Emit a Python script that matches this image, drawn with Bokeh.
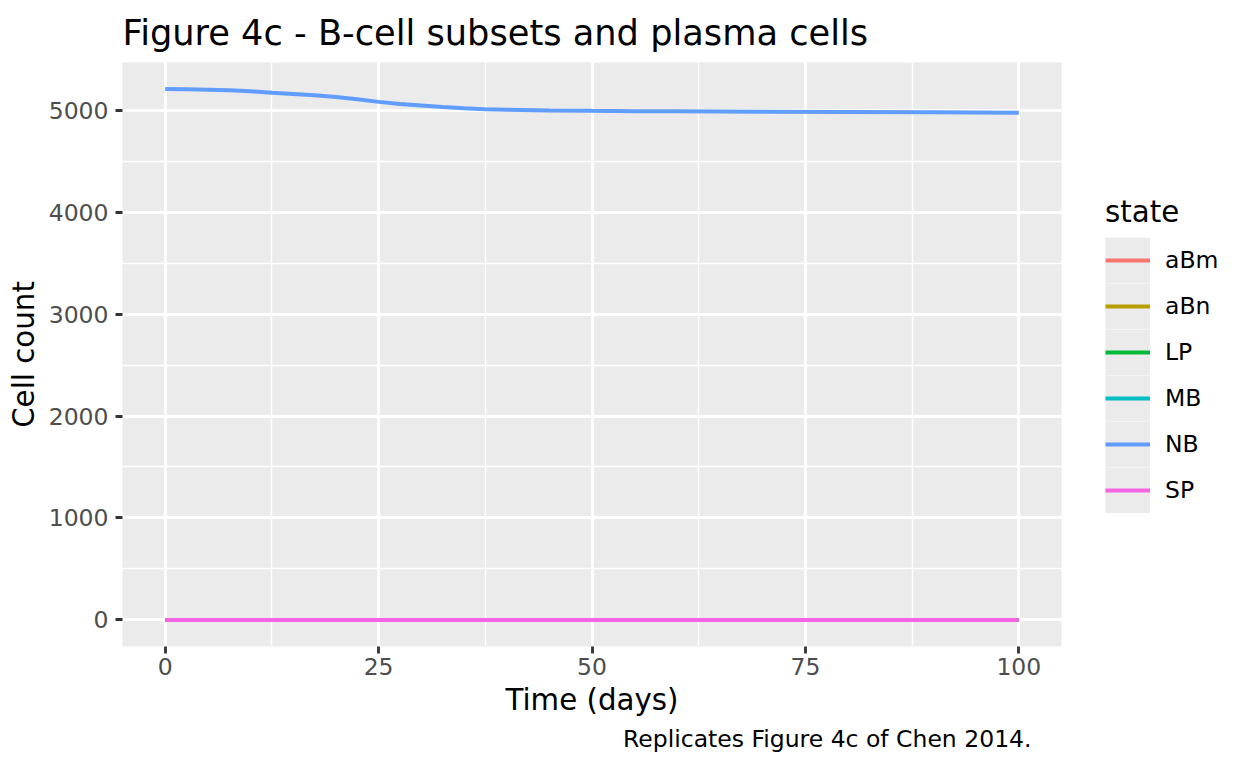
import numpy as np
from bokeh.plotting import figure
from bokeh.models import Range1d, FixedTicker, Legend, LegendItem, ColumnDataSource, Title
from bokeh.embed import file_html
from bokeh.resources import INLINE

# ---- data ----
time_days = [0, 2.5, 5, 7.5, 10, 12.5, 15, 17.5, 20, 22.5, 25, 27.5, 30, 32.5,
             35, 37.5, 40, 45, 50, 55, 60, 70, 80, 90, 100]
NB = [5205, 5204, 5200, 5193, 5183, 5170, 5158, 5145, 5128, 5105, 5080, 5060,
      5045, 5030, 5017, 5008, 5002, 4996, 4992, 4989, 4987, 4983, 4980, 4977, 4974]
aBm = [0, 0, 0, 0, 0, 0, 0, 0, 0, 0, 0, 0, 0, 0, 0, 0, 0, 0, 0, 0, 0, 0, 0, 0, 0]
aBn = [0, 0, 0, 0, 0, 0, 0, 0, 0, 0, 0, 0, 0, 0, 0, 0, 0, 0, 0, 0, 0, 0, 0, 0, 0]
LP = [0, 0, 0, 0, 0, 0, 0, 0, 0, 0, 0, 0, 0, 0, 0, 0, 0, 0, 0, 0, 0, 0, 0, 0, 0]
MB = [0, 0, 0, 0, 0, 0, 0, 0, 0, 0, 0, 0, 0, 0, 0, 0, 0, 0, 0, 0, 0, 0, 0, 0, 0]
SP = [0, 0, 0, 0, 0, 0, 0, 0, 0, 0, 0, 0, 0, 0, 0, 0, 0, 0, 0, 0, 0, 0, 0, 0, 0]

states = ["aBm", "aBn", "LP", "MB", "NB", "SP"]
series = [aBm, aBn, LP, MB, NB, SP]
colors = ["#F8766D", "#B79F00", "#00BA38", "#00BFC4", "#619CFF", "#F564E3"]

x_ticks = [0, 25, 50, 75, 100]
x_minor = [12.5, 37.5, 62.5, 87.5]
y_ticks = [0, 1000, 2000, 3000, 4000, 5000]
y_minor = [500, 1500, 2500, 3500, 4500]

FONT = "DejaVu Sans"

p = figure(width=1248, height=768, frame_width=939, frame_height=584,
           x_range=Range1d(-5, 105), y_range=Range1d(-260, 5466),
           output_backend="svg", toolbar_location=None,
           min_border_left=122, min_border_top=62, min_border_bottom=10,
           min_border_right=10,
           background_fill_color="#EBEBEB", border_fill_color="white",
           outline_line_color=None,
           title="Figure 4c - B-cell subsets and plasma cells")

p.title.text_font = FONT
p.title.text_font_size = "35.2px"
p.title.text_font_style = "normal"
p.title.text_color = "black"
p.title.align = "left"
p.title.standoff = 19

# axes
p.xaxis.ticker = FixedTicker(ticks=x_ticks, minor_ticks=x_minor)
p.yaxis.ticker = FixedTicker(ticks=y_ticks, minor_ticks=y_minor)
for ax in (p.xaxis, p.yaxis):
    ax.axis_line_color = None
    ax.major_tick_in = 0
    ax.major_tick_out = 7
    ax.major_tick_line_color = "#333333"
    ax.major_tick_line_width = 2.8
    ax.minor_tick_line_color = None
    ax.major_label_text_font = FONT
    ax.major_label_text_font_size = "23.5px"
    ax.major_label_text_color = "#4D4D4D"
    ax.axis_label_text_font = FONT
    ax.axis_label_text_font_size = "29.3px"
    ax.axis_label_text_font_style = "normal"
    ax.axis_label_text_color = "black"
p.xaxis.axis_label = "Time (days)"
p.yaxis.axis_label = "Cell count"
p.xaxis.major_label_standoff = 4
p.yaxis.major_label_standoff = 7
p.xaxis.axis_label_standoff = 5
p.yaxis.axis_label_standoff = 5

p.grid.grid_line_color = "white"
p.grid.grid_line_width = 2.8
p.grid.minor_grid_line_color = "white"
p.grid.minor_grid_line_width = 1.4

# legend key background (gray box behind each key); its single row is NaN, so
# it draws nothing in the panel and only paints the legend key boxes
key_bg = p.rect(x="x", y="y", width=1, height=1,
                source=ColumnDataSource(data=dict(x=np.array([np.nan]), y=np.array([np.nan]))),
                fill_color="#EBEBEB", line_color="#EBEBEB",
                line_width=9.2, line_join="miter")

items = []
for name, vals, col in zip(states, series, colors):
    src = ColumnDataSource(data=dict(t=time_days, v=vals))
    r = p.line(x="t", y="v", source=src, line_color=col, line_width=4)
    items.append(LegendItem(label=name, renderers=[key_bg, r]))

legend = Legend(items=items, location=(44, 133),
                title="state", title_text_font=FONT, title_text_font_size="29.3px",
                title_text_font_style="normal",
                title_text_color="black", title_standoff=8,
                label_text_font=FONT, label_text_font_size="23.5px",
                label_text_color="black", label_standoff=15,
                glyph_width=45, glyph_height=46, label_height=46, spacing=0,
                padding=0, margin=0, border_line_color=None,
                background_fill_color="white", background_fill_alpha=1.0)
p.add_layout(legend, "right")

caption = Title(text="Replicates Figure 4c of Chen 2014.", align="right",
                text_font=FONT, text_font_size="23.5px", text_font_style="normal",
                text_color="black", offset=30, standoff=7)
p.add_layout(caption, "below")

open("out.html", "w").write(file_html(p, INLINE))
